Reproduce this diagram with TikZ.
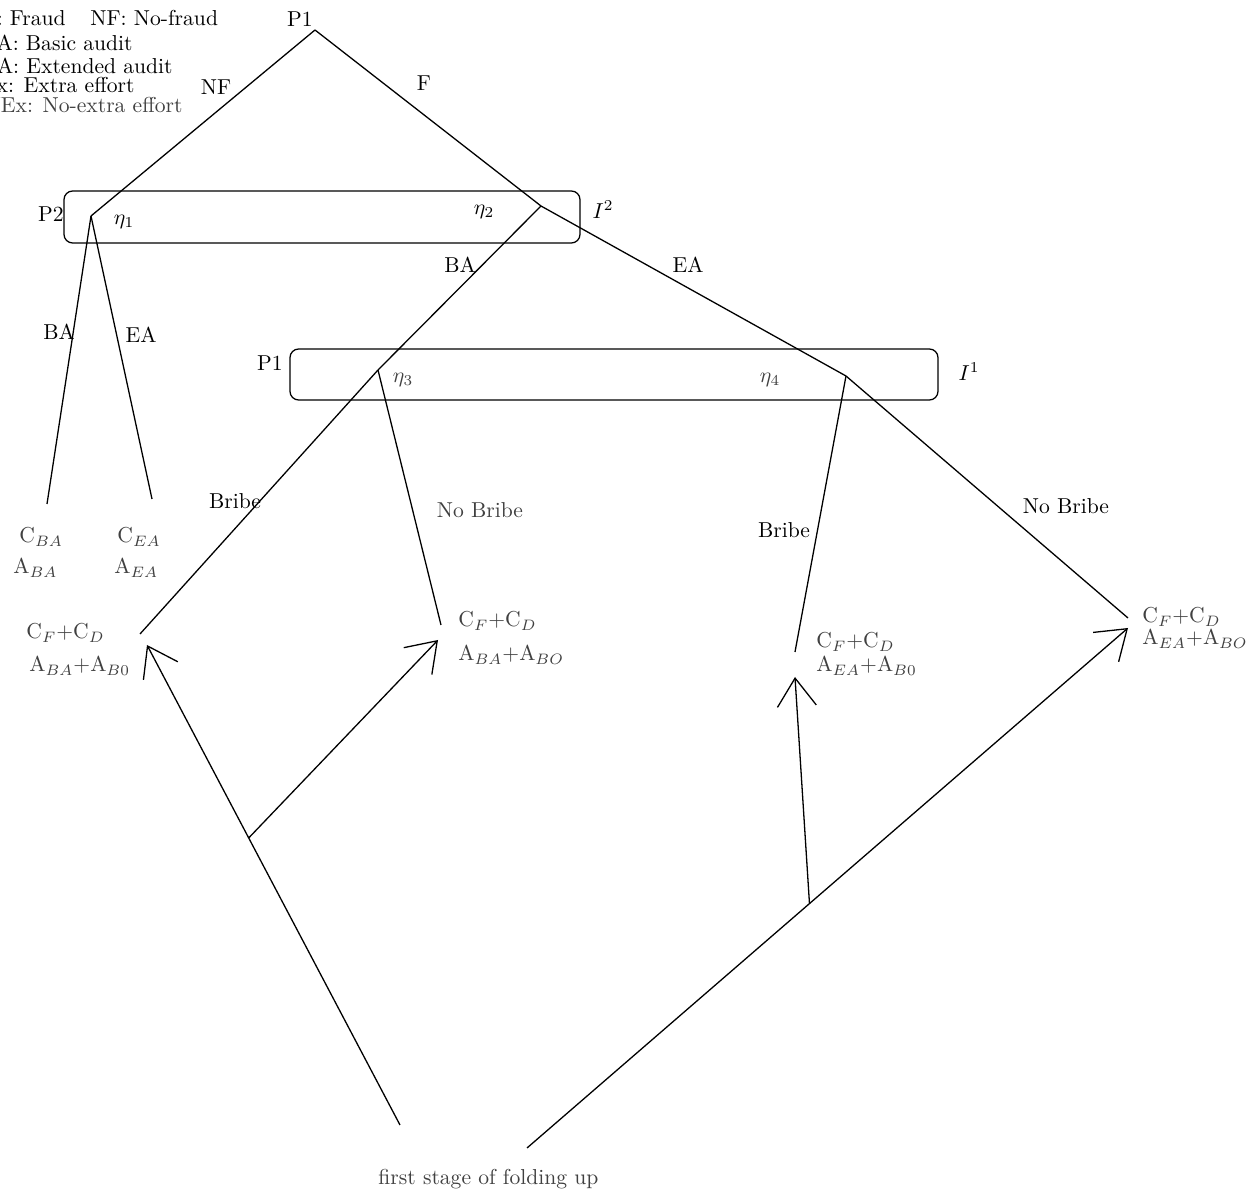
\documentclass[tikz,border=0pt]{standalone}
\usetikzlibrary{arrows.meta}
\begin{document}
\begin{tikzpicture}[x=0.463pt,y=-0.463pt,
  edge/.style={line width=0.6pt},
  lbl/.style={inner sep=0pt, anchor=center},
  pay/.style={inner sep=0pt, anchor=base west, text=black!75},
  soft/.style={text=black!75},
  infoset/.style={draw, line width=0.6pt, rounded corners=4pt},
  fold/.style={line width=0.6pt, -{Straight Barb[length=13pt,width=18pt,line width=0.6pt]}},
]
\useasboundingbox (0,0) rectangle (1259,1194);
\clip (0,0) rectangle (1259,1194);

% legend
\node[inner sep=0pt, anchor=base east] (lgF) at (66,26) {F: Fraud};
\node[inner sep=0pt, anchor=base west] (lgNF) at (90,26) {NF: No-fraud};
\node[inner sep=0pt, anchor=base east] (lgBA) at (133,51) {BA: Basic audit};
\node[inner sep=0pt, anchor=base east] (lgEA) at (173,74) {EA: Extended audit};
\node[inner sep=0pt, anchor=base east] (lgEx) at (135,93) {Ex: Extra effort};
\node[inner sep=0pt, anchor=base east, soft] (lgNEx) at (183,113) {NEx: No-extra effort};

% tree points
\coordinate (r) at (315,30);
\coordinate (e1) at (91,216);
\coordinate (e2) at (541,206);
\coordinate (e3) at (378,370);
\coordinate (e4) at (846,376);
\coordinate (lBA) at (47,504);
\coordinate (lEA) at (152,499);
\coordinate (b3) at (140,634);
\coordinate (n3) at (441,625);
\coordinate (b4) at (795,652);
\coordinate (n4) at (1128,618);

% information sets
\draw[infoset] (64,191) rectangle (580,243);
\draw[infoset] (290,349) rectangle (938,400);

% edges
\draw[edge] (r) -- (e1);
\draw[edge] (r) -- (e2);
\draw[edge] (e1) -- (lBA);
\draw[edge] (e1) -- (lEA);
\draw[edge] (e2) -- (e3);
\draw[edge] (e2) -- (e4);
\draw[edge] (e3) -- (b3);
\draw[edge] (e3) -- (n3);
\draw[edge] (e4) -- (b4);
\draw[edge] (e4) -- (n4);

% labels
\node[lbl] (lP1) at (300,19) {P1};
\node[lbl] (lNF) at (216,87) {NF};
\node[lbl] (lFe) at (424,83) {F};
\node[lbl] (lP2) at (51,214) {P2};
\node[lbl] (leta1) at (124,222) {$\eta_1$};
\node[lbl] (leta2) at (484,212) {$\eta_2$};
\node[lbl] (lI2) at (603,210) {$I^2$};
\node[lbl] (lBAu) at (460,265) {BA};
\node[lbl] (lEAu) at (688,265) {EA};
\node[lbl] (lBAl) at (59,332) {BA};
\node[lbl] (lEAl) at (141,335) {EA};
\node[lbl] (lP1m) at (270,363) {P1};
\node[lbl, soft] (leta3) at (403,380) {$\eta_3$};
\node[lbl, soft] (leta4) at (770,380) {$\eta_4$};
\node[lbl] (lI1) at (969,372) {$I^1$};
\node[lbl] (lbr3) at (235,501) {Bribe};
\node[lbl, soft] (lnb3) at (480,510) {No Bribe};
\node[lbl] (lbr4) at (784,530) {Bribe};
\node[lbl] (lnb4) at (1066,506) {No Bribe};

% payoffs
\node[pay] (pc1) at (19,543) {C$_{BA}$};
\node[pay] (pa1) at (13,574) {A$_{BA}$};
\node[pay] (pc2) at (117,543) {C$_{EA}$};
\node[pay] (pa2) at (114,574) {A$_{EA}$};
\node[pay] (pc3) at (26,639) {C$_F$+C$_D$};
\node[pay] (pa3) at (29,672) {A$_{BA}$+A$_{B0}$};
\node[pay] (pc4) at (458,627) {C$_F$+C$_D$};
\node[pay] (pa4) at (458,661) {A$_{BA}$+A$_{BO}$};
\node[pay] (pc5) at (816,648) {C$_F$+C$_D$};
\node[pay] (pa5) at (816,672) {A$_{EA}$+A$_{B0}$};
\node[pay] (pc6) at (1142,623) {C$_F$+C$_D$};
\node[pay] (pa6) at (1142,645) {A$_{EA}$+A$_{BO}$};

\node[pay] (fold) at (378,1185) {first stage of folding up};

% folding arrows
\coordinate (fl0) at (400,1125);
\coordinate (fl1) at (147,645);
\coordinate (fl2) at (438,640);
\coordinate (fr0) at (527,1148);
\coordinate (fr1) at (1128,628);
\coordinate (fr2) at (795,677);
\draw[fold] (fl0) -- coordinate[pos=0.598] (jl) (fl1);
\draw[fold] (jl) -- (fl2);
\draw[fold] (fr0) -- coordinate[pos=0.47] (jr) (fr1);
\draw[fold] (jr) -- (fr2);
\end{tikzpicture}
\end{document}
